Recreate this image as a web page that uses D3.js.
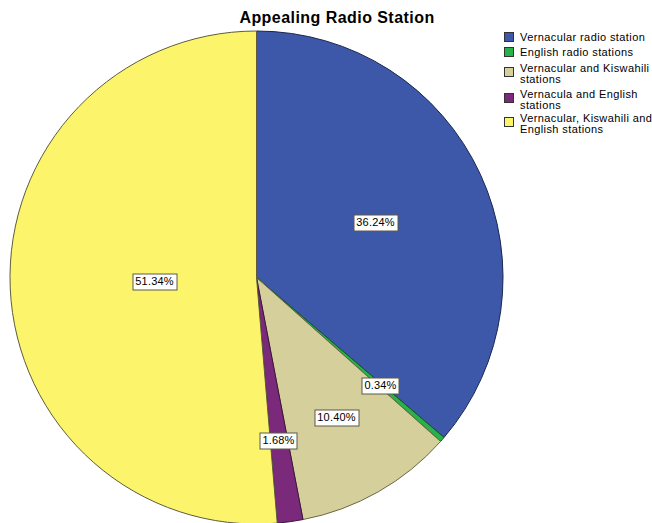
<!DOCTYPE html>
<html>
<head>
<meta charset="utf-8">
<script src="https://cdn.jsdelivr.net/npm/d3@7"></script>
<style>
  html, body { margin: 0; padding: 0; background: #fff; }
  svg { display: block; font-family: "Liberation Sans", Arial, sans-serif; }
</style>
</head>
<body>
<svg id="chart" width="652" height="523"></svg>
<script>
// Appealing radio station shares (percent), clockwise from 12 o'clock
const categories = [
  "Vernacular radio station",
  "English radio stations",
  "Vernacular and Kiswahili stations",
  "Vernacula and English stations",
  "Vernacular, Kiswahili and English stations"
];
const values = [36.24, 0.34, 10.40, 1.68, 51.34];
const valueLabels = ["36.24%", "0.34%", "10.40%", "1.68%", "51.34%"];
const legendLines = [
  ["Vernacular radio station"],
  ["English radio stations"],
  ["Vernacular and Kiswahili", "stations"],
  ["Vernacula and English", "stations"],
  ["Vernacular, Kiswahili and", "English stations"]
];
const colors = ["#3e58a9", "#2ab24a", "#d5cf9b", "#7b2a7b", "#fcf56c"];
const strokes = ["#1a2650", "#145a24", "#6a6748", "#3c143c", "#5e5c3a"];

const svg = d3.select("#chart");
const cx = 256.5, cy = 277.5, R = 246.5;

// Title
svg.append("text")
  .attr("x", 337).attr("y", 23)
  .attr("text-anchor", "middle")
  .attr("font-size", 16).attr("font-weight", "bold")
  .attr("letter-spacing", 0.45)
  .attr("fill", "#000")
  .text("Appealing Radio Station");

const pie = d3.pie().sort(null).value(d => d)(values);
const arc = d3.arc().innerRadius(0).outerRadius(R);

const g = svg.append("g").attr("transform", `translate(${cx},${cy})`);

g.selectAll("path.slice")
  .data(pie)
  .join("path")
  .attr("class", "slice")
  .attr("d", arc)
  .attr("fill", (d, i) => colors[i])
  .attr("stroke", (d, i) => strokes[i])
  .attr("stroke-width", 1);

// Value labels placed at the area centroid of each sector
const labels = g.selectAll("g.lbl")
  .data(pie)
  .join("g")
  .attr("class", "lbl")
  .attr("transform", d => {
    const half = (d.endAngle - d.startAngle) / 2;
    const dist = half < 1e-6 ? 2 * R / 3 : (2 * R * Math.sin(half)) / (3 * half);
    const mid = (d.startAngle + d.endAngle) / 2;
    const x = dist * Math.sin(mid), y = -dist * Math.cos(mid);
    return `translate(${Math.round(x)},${Math.round(y)})`;
  });

labels.each(function(d, i) {
  const sel = d3.select(this);
  const t = sel.append("text")
    .attr("text-anchor", "middle")
    .attr("dy", "0.35em")
    .attr("font-size", 11)
    .attr("letter-spacing", 0.2)
    .attr("fill", "#000")
    .text(valueLabels[i]);
  const bb = t.node().getBBox();
  sel.insert("rect", "text")
    .attr("x", Math.round(bb.x) - 2.5)
    .attr("y", -7.5)
    .attr("width", Math.round(bb.width) + 5)
    .attr("height", 16)
    .attr("fill", "#fff")
    .attr("stroke", "#5a5a4a")
    .attr("stroke-width", 1);
});

// Legend
const legendY = [32, 47, 67, 93, 117];
const legend = svg.append("g").attr("transform", "translate(504,0)");
categories.forEach((c, i) => {
  const row = legend.append("g").attr("transform", `translate(0,${legendY[i]})`);
  row.append("rect")
    .attr("x", 0.5).attr("y", 0.5)
    .attr("width", 9).attr("height", 9)
    .attr("fill", colors[i])
    .attr("stroke", "#333").attr("stroke-width", 1);
  const lines = legendLines[i];
  const t = row.append("text")
    .attr("font-size", 11)
    .attr("letter-spacing", 0.4)
    .attr("fill", "#000");
  const y0 = lines.length === 1 ? 9 : 5;
  lines.forEach((ln, k) => {
    t.append("tspan").attr("x", 16).attr("y", y0 + k * 11).text(ln);
  });
});
</script>
</body>
</html>
